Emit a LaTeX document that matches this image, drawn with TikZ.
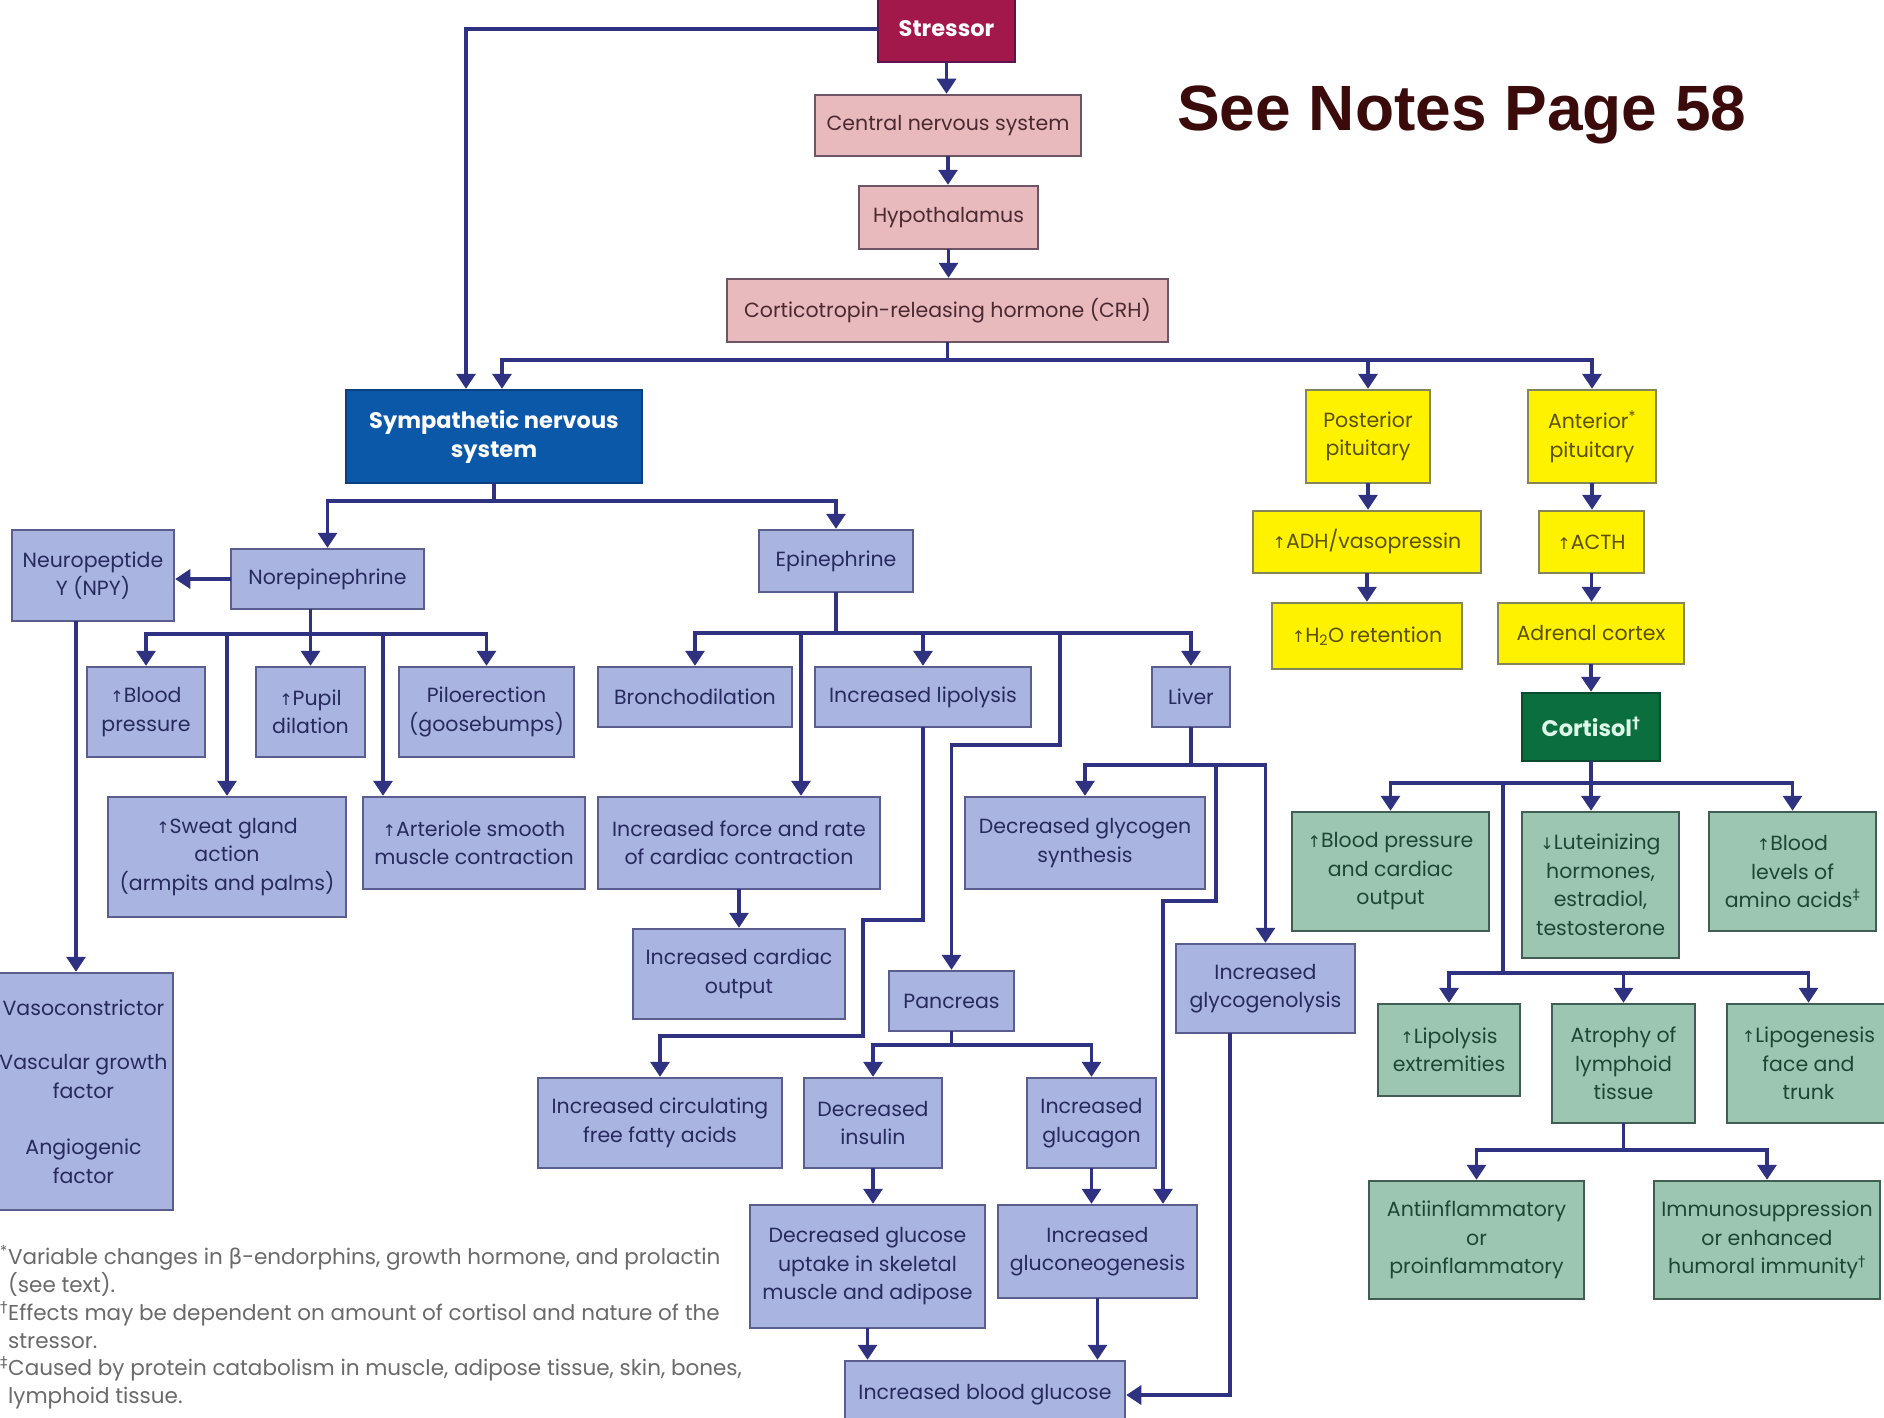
\documentclass[tikz,border=0pt]{standalone}
\usepackage{fontspec}
\setmainfont{Poppins}
\newfontfamily\symf{DejaVu Sans}
\newfontfamily\notef{Liberation Sans}
\usetikzlibrary{arrows.meta,calc}
\definecolor{lc}{HTML}{2E3280}
\definecolor{pinkf}{HTML}{E8B9BD}
\definecolor{pinkd}{HTML}{6E5566}
\definecolor{pinkt}{HTML}{4A2A30}
\definecolor{bluef}{HTML}{A9B4E0}
\definecolor{blued}{HTML}{5A5E8E}
\definecolor{bluet}{HTML}{262A5E}
\definecolor{yelf}{HTML}{FFF200}
\definecolor{yeld}{HTML}{85855A}
\definecolor{yelt}{HTML}{5A5000}
\definecolor{grnf}{HTML}{9CC6B2}
\definecolor{grnd}{HTML}{415E55}
\definecolor{grnt}{HTML}{1E4634}
\definecolor{strf}{HTML}{A3184B}
\definecolor{strd}{HTML}{5E1250}
\definecolor{snsf}{HTML}{0B57A8}
\definecolor{snsd}{HTML}{0A3F80}
\definecolor{cortf}{HTML}{0B6E3E}
\definecolor{cortd}{HTML}{0A4A2E}
\definecolor{cortt}{HTML}{DDF7E8}
\definecolor{notec}{HTML}{3B0B0B}
\definecolor{fnc}{HTML}{6A6A6A}
\newcommand\uarr{{\symf\fontsize{16}{16}\selectfont ↑}}
\newcommand\darr{{\symf\fontsize{16}{16}\selectfont ↓}}
\newcommand\mybox[7]{\node[#6, minimum width={(#4)-(#2)}, minimum height={(#5)-(#3)}] (#1) at ({((#2)+(#4))/2},{((#3)+(#5))/2}) {#7};}
\begin{document}
\begin{tikzpicture}[x=1pt,y=-1pt,
  conn/.style={draw=lc, line width=3.2pt, line cap=rect},
  arrc/.style={conn, -{Triangle[width=19pt,length=15pt]}},
  base/.style={rectangle, align=center, inner sep=1pt, line width=2.5pt, font=\fontsize{20.5}{28.5}\selectfont},
  pinkb/.style={base, fill=pinkf, draw=pinkd, text=pinkt},
  blueb/.style={base, fill=bluef, draw=blued, text=bluet},
  yelb/.style={base, fill=yelf, draw=yeld, text=yelt},
  greenb/.style={base, fill=grnf, draw=grnd, text=grnt},
  strb/.style={base, fill=strf, draw=strd, text=white, font=\fontsize{22.5}{29}\selectfont\bfseries},
  snsb/.style={base, fill=snsf, draw=snsd, text=white, font=\fontsize{22.5}{29}\selectfont\bfseries},
  cortb/.style={base, fill=cortf, draw=cortd, text=cortt, font=\fontsize{22.5}{29}\selectfont\bfseries},
  fn/.style={anchor=base west, inner sep=0pt, text=fnc, font=\fontsize{21.5}{27}\selectfont}]
\useasboundingbox (0,0) rectangle (1884,1418);
\fill[white] (0,0) rectangle (1884,1418);

% top chain
\mybox{stressor}{878}{-4}{1015}{62}{strb}{Stressor}
\mybox{cns}{815}{95}{1081}{156}{pinkb}{Central nervous system}
\mybox{hyp}{859}{186}{1038}{249}{pinkb}{Hypothalamus}
\mybox{crh}{727}{279}{1168}{342}{pinkb}{Corticotropin-releasing hormone (CRH)}
\mybox{sns}{346}{390}{642}{483}{snsb}{Sympathetic nervous\\system}

% pituitary / cortisol
\mybox{post}{1306}{390}{1430}{483}{yelb}{Posterior\\pituitary}
\mybox{ant}{1528}{390}{1656}{483}{yelb}{Anterior\textsuperscript{*}\\pituitary}
\mybox{adh}{1253}{511}{1481}{573}{yelb}{\uarr ADH/vasopressin}
\mybox{acth}{1539}{511}{1644}{573}{yelb}{\uarr ACTH}
\mybox{h2o}{1272}{603}{1462}{669}{yelb}{\uarr H\textsubscript{2}O retention}
\mybox{adr}{1498}{603}{1684}{664}{yelb}{Adrenal cortex}
\mybox{cort}{1522}{693}{1660}{761}{cortb}{Cortisol\textsuperscript{\symf †}}
\mybox{g1}{1292}{812}{1489}{931}{greenb}{\uarr Blood pressure\\and cardiac\\output}
\mybox{g2}{1522}{812}{1679}{958}{greenb}{\darr Luteinizing\\hormones,\\estradiol,\\testosterone}
\mybox{g3}{1709}{812}{1876}{931}{greenb}{\uarr Blood\\levels of\\amino acids\textsuperscript{\symf ‡}}
\mybox{g4}{1378}{1004}{1520}{1096}{greenb}{\uarr Lipolysis\\extremities}
\mybox{g5}{1552}{1004}{1695}{1123}{greenb}{Atrophy of\\lymphoid\\tissue}
\mybox{g6}{1727}{1004}{1890}{1123}{greenb}{\uarr Lipogenesis\\face and\\trunk}
\mybox{g7}{1369}{1181}{1584}{1299}{greenb}{Antiinflammatory\\or\\proinflammatory}
\mybox{g8}{1654}{1181}{1880}{1299}{greenb}{Immunosuppression\\or enhanced\\humoral immunity\textsuperscript{\symf †}}

% sympathetic branch
\mybox{npy}{12}{530}{174}{621}{blueb}{Neuropeptide\\Y (NPY)}
\mybox{nor}{231}{549}{424}{609}{blueb}{Norepinephrine}
\mybox{epi}{759}{530}{913}{592}{blueb}{Epinephrine}
\mybox{bp}{87}{667}{205}{757}{blueb}{\uarr Blood\\pressure}
\mybox{pupil}{256}{667}{365}{757}{blueb}{\uarr Pupil\\dilation}
\mybox{pilo}{399}{667}{574}{757}{blueb}{Piloerection\\(goosebumps)}
\mybox{sweat}{108}{797}{346}{917}{blueb}{\uarr Sweat gland\\action\\(armpits and palms)}
\mybox{arter}{363}{797}{585}{889}{blueb}{\uarr Arteriole smooth\\muscle contraction}
\mybox{vaso}{-6}{973}{173}{1210}{blueb}{Vasoconstrictor\\[26pt]Vascular growth\\factor\\[28pt]Angiogenic\\factor}
\mybox{bronch}{598}{667}{792}{727}{blueb}{Bronchodilation}
\mybox{lipol}{815}{667}{1031}{727}{blueb}{Increased lipolysis}
\mybox{liver}{1152}{667}{1230}{727}{blueb}{Liver}
\mybox{force}{598}{797}{880}{889}{blueb}{Increased force and rate\\of cardiac contraction}
\mybox{cardout}{633}{929}{845}{1019}{blueb}{Increased cardiac\\output}
\mybox{ffa}{538}{1078}{782}{1168}{blueb}{Increased circulating\\free fatty acids}
\mybox{panc}{889}{971}{1014}{1031}{blueb}{Pancreas}
\mybox{insul}{804}{1078}{942}{1168}{blueb}{Decreased\\insulin}
\mybox{glucag}{1027}{1078}{1156}{1168}{blueb}{Increased\\glucagon}
\mybox{uptake}{750}{1205}{985}{1328}{blueb}{Decreased glucose\\uptake in skeletal\\muscle and adipose}
\mybox{gneo}{998}{1205}{1197}{1298}{blueb}{Increased\\gluconeogenesis}
\mybox{bglu}{845}{1361}{1125}{1429}{blueb}{Increased blood glucose}
\mybox{dgs}{965}{797}{1205}{889}{blueb}{Decreased glycogen\\synthesis}
\mybox{glyc}{1176}{944}{1355}{1033}{blueb}{Increased\\glycogenolysis}

% connectors: top
\draw[arrc] (stressor.south) -- (stressor.south |- cns.north);
\draw[arrc] (cns.south) -- (cns.south |- hyp.north);
\draw[arrc] (hyp.south) -- (hyp.south |- crh.north);
\coordinate (b1L) at (502,360);
\coordinate (b1R) at (1592,360);
\draw[conn] (crh.south) -- (crh.south |- b1L);
\draw[conn] (b1L) -- (b1R);
\draw[arrc] (b1L) -- (b1L |- sns.north);
\draw[arrc] (b1L -| post.north) -- (post.north);
\draw[arrc] (b1L -| ant.north) -- (ant.north);
\coordinate (sL) at (466,0);
\draw[arrc] (stressor.west) -| (sL |- sns.north);

% SNS
\coordinate (b2) at (0,501);
\draw[conn] (sns.south) -- (sns.south |- b2);
\draw[conn] (b2 -| nor.north) -- (b2 -| epi.north);
\draw[arrc] (b2 -| nor.north) -- (nor.north);
\draw[arrc] (b2 -| epi.north) -- (epi.north);
\draw[arrc] (nor.west) -- (nor.west -| npy.east);
\coordinate (vx) at (76,0);
\draw[arrc] (vx |- npy.south) -- (vx |- vaso.north);

% norepinephrine
\coordinate (b3) at (0,634);
\draw[conn] (nor.south -| pupil.north) -- (b3 -| pupil.north);
\draw[conn] (b3 -| bp.north) -- (b3 -| pilo.north);
\draw[arrc] (b3 -| bp.north) -- (bp.north);
\draw[arrc] (b3 -| pupil.north) -- (pupil.north);
\draw[arrc] (b3 -| pilo.north) -- (pilo.north);
\draw[arrc] (b3 -| sweat.north) -- (sweat.north);
\coordinate (ax) at (383,0);
\draw[arrc] (b3 -| ax) -- (ax |- arter.north);

% epinephrine
\coordinate (b4) at (0,633);
\draw[conn] (epi.south) -- (epi.south |- b4);
\draw[conn] (b4 -| bronch.north) -- (b4 -| liver.north);
\draw[arrc] (b4 -| bronch.north) -- (bronch.north);
\draw[arrc] (b4 -| lipol.north) -- (lipol.north);
\draw[arrc] (b4 -| liver.north) -- (liver.north);
\coordinate (fx) at (801,0);
\draw[arrc] (b4 -| fx) -- (fx |- force.north);
\coordinate (px) at (1060,745);
\draw[arrc] (b4 -| px) -- (px) -| (panc.north);
\draw[arrc] (force.south) -- (force.south |- cardout.north);
\coordinate (l1) at (863,920);
\coordinate (l2) at (863,1036);
\draw[arrc] (lipol.south) -- (lipol.south |- l1) -- (l1) -- (l2) -| (ffa.north);

% pancreas
\coordinate (b5) at (0,1045);
\draw[conn] (panc.south) -- (panc.south |- b5);
\draw[conn] (b5 -| insul.north) -- (b5 -| glucag.north);
\draw[arrc] (b5 -| insul.north) -- (insul.north);
\draw[arrc] (b5 -| glucag.north) -- (glucag.north);
\draw[arrc] (insul.south) -- (insul.south |- uptake.north);
\draw[arrc] (glucag.south) -- (glucag.south |- gneo.north);
\draw[arrc] (uptake.south) -- (uptake.south |- bglu.north);
\draw[arrc] (gneo.south) -- (gneo.south |- bglu.north);

% liver
\coordinate (b6) at (0,765);
\draw[conn] (liver.south) -- (liver.south |- b6);
\draw[conn] (b6 -| dgs.north) -- (b6 -| glyc.north);
\draw[arrc] (b6 -| dgs.north) -- (dgs.north);
\draw[arrc] (b6 -| glyc.north) -- (glyc.north);
\coordinate (k1) at (1216,901);
\coordinate (k2) at (1163,901);
\draw[arrc] (b6 -| k1) -- (k1) -- (k2) -- (k2 |- gneo.north);
\coordinate (gx) at (1230,0);
\draw[arrc] (gx |- glyc.south) -- (gx |- bglu.east) -- (bglu.east);

% pituitary chains
\draw[arrc] (post.south) -- (post.south |- adh.north);
\draw[arrc] (adh.south) -- (adh.south |- h2o.north);
\draw[arrc] (ant.south) -- (ant.south |- acth.north);
\draw[arrc] (acth.south) -- (acth.south |- adr.north);
\draw[arrc] (adr.south) -- (adr.south |- cort.north);

% cortisol
\coordinate (b7) at (0,783);
\draw[conn] (cort.south) -- (cort.south |- b7);
\draw[conn] (b7 -| g1.north) -- (b7 -| g3.north);
\draw[arrc] (b7 -| g1.north) -- (g1.north);
\draw[arrc] (b7 -| cort.south) -- (cort.south |- g2.north);
\draw[arrc] (b7 -| g3.north) -- (g3.north);
\coordinate (b8) at (1503,973);
\draw[conn] (b7 -| b8) -- (b8);
\draw[conn] (b8 -| g4.north) -- (b8 -| g6.north);
\draw[arrc] (b8 -| g4.north) -- (g4.north);
\draw[arrc] (b8 -| g5.north) -- (g5.north);
\draw[arrc] (b8 -| g6.north) -- (g6.north);
\coordinate (b9) at (0,1150);
\draw[conn] (g5.south) -- (g5.south |- b9);
\draw[conn] (b9 -| g7.north) -- (b9 -| g8.north);
\draw[arrc] (b9 -| g7.north) -- (g7.north);
\draw[arrc] (b9 -| g8.north) -- (g8.north);

% title note
\node[anchor=base west, inner sep=0pt, text=notec, font=\notef\bfseries\fontsize{64}{64}\selectfont] (seenotes) at (1177,131) {See Notes Page 58};

% footnotes
\node[fn] (fn1) at (0,1264) {\textsuperscript{*}Variable changes in {\symf β}-endorphins, growth hormone, and prolactin};
\node[fn] (fn2) at (8,1292) {(see text).};
\node[fn] (fn3) at (0,1320) {\textsuperscript{\symf †}Effects may be dependent on amount of cortisol and nature of the};
\node[fn] (fn4) at (8,1348) {stressor.};
\node[fn] (fn5) at (0,1375) {\textsuperscript{\symf ‡}Caused by protein catabolism in muscle, adipose tissue, skin, bones,};
\node[fn] (fn6) at (8,1403) {lymphoid tissue.};
\end{tikzpicture}
\end{document}
